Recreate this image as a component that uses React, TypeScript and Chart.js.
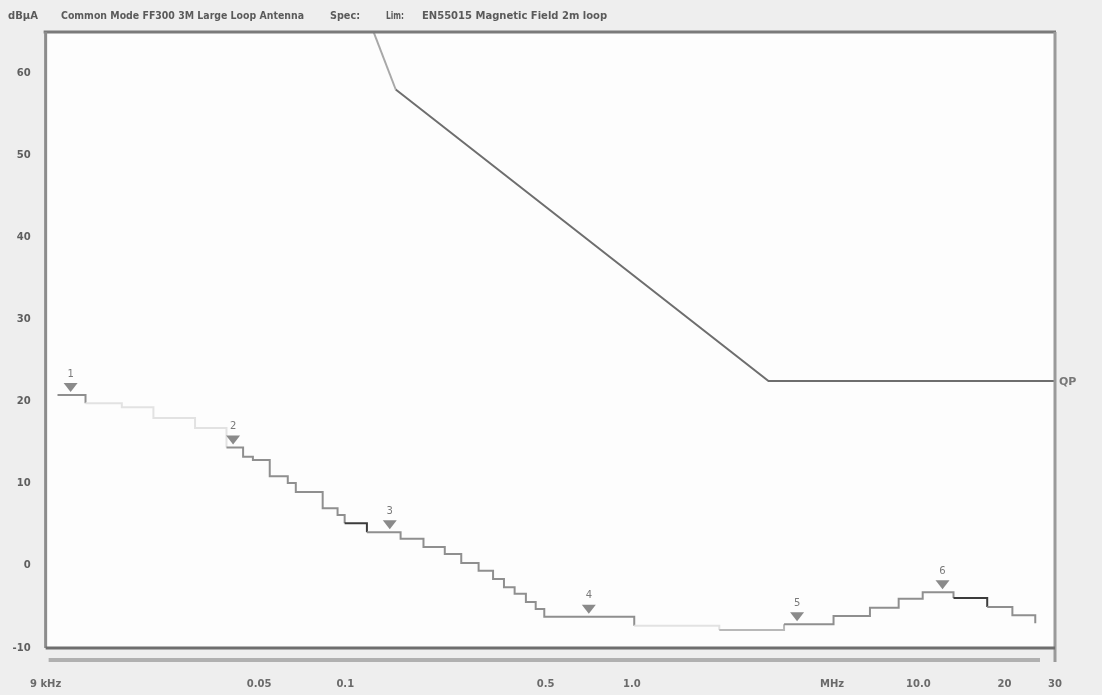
import React, { useEffect, useRef } from 'react';
import { Chart, registerables } from 'chart.js';

Chart.register(...registerables);

// ---- data ----
const traceFreqs = [0.0099, 0.0124, 0.0166, 0.0214, 0.0299, 0.0385, 0.044, 0.0476, 0.0545, 0.063, 0.0672, 0.0834, 0.094, 0.0995, 0.119, 0.156, 0.1875, 0.2225, 0.254, 0.292, 0.328, 0.358, 0.39, 0.427, 0.462, 0.495, 1.02, 2.02, 3.4, 5.06, 6.78, 8.54, 10.36, 13.27, 17.4, 21.3, 25.6];
const traceLevels = [20.8, 19.8, 19.3, 18.0, 16.8, 14.4, 13.3, 12.9, 10.9, 10.1, 9.0, 7.0, 6.2, 5.2, 4.1, 3.3, 2.3, 1.45, 0.35, -0.6, -1.6, -2.6, -3.4, -4.4, -5.25, -6.2, -7.3, -7.8, -7.1, -6.1, -5.1, -4.0, -3.2, -3.9, -5.0, -6.0, -7.0];

const limitFreqs = [0.07, 0.15, 3.0, 30];
const limitLevels = [88, 58, 22.5, 22.5];

const markerFreqs = [0.011, 0.0406, 0.143, 0.708, 3.775, 12.15];
const markerLevels = [20.8, 14.4, 4.1, -6.2, -7.1, -3.2];
const markerLabels = ['1', '2', '3', '4', '5', '6'];

const xTickValues = [0.009, 0.05, 0.1, 0.5, 1, 5, 10, 20, 30];
const xTickLabels = ['9 kHz', '0.05', '0.1', '0.5', '1.0', 'MHz', '10.0', '20', '30'];
const yTickValues = [-10, 0, 10, 20, 30, 40, 50, 60];

const headerUnit = 'dBµA';
const headerTitle = 'Common Mode FF300 3M Large Loop Antenna';
const headerSpec = 'Spec:';
const headerLim = 'Lim:';
const headerLimit = 'EN55015 Magnetic Field 2m loop';
const limitTag = 'QP';

// ---- styles ----
const fadedRanges: [number, number][] = [[0.0124, 0.0385], [1.02, 2.02]];
const lightRanges: [number, number][] = [[2.02, 3.4]];
const darkRanges: [number, number][] = [[0.0995, 0.119], [13.27, 17.4]];
const inRange = (v: number, r: [number, number][]) => r.some(([a, b]) => v >= a - 1e-9 && v < b - 1e-9);

const decoPlugin = {
  id: 'deco',
  beforeDraw(chart: any) {
    const { ctx, chartArea: a, width, height } = chart;
    ctx.save();
    ctx.fillStyle = '#eeeeee';
    ctx.fillRect(0, 0, width, height);
    ctx.fillStyle = '#fdfdfd';
    ctx.fillRect(a.left, a.top, a.right - a.left, a.bottom - a.top);
    // header
    ctx.fillStyle = '#5a5a5a';
    ctx.font = 'bold 10px "DejaVu Sans"';
    ctx.textBaseline = 'middle';
    ctx.textAlign = 'left';
    ctx.fillText(headerUnit, 8, 16, 32);
    ctx.fillText(headerTitle, 61, 16, 243);
    ctx.fillText(headerSpec, 330, 16, 30);
    ctx.fillText(headerLim, 386, 16, 18);
    ctx.fillText(headerLimit, 422, 16, 202);
    ctx.restore();
  },
  afterDraw(chart: any) {
    const { ctx, chartArea: a } = chart;
    ctx.save();
    // frame
    ctx.lineWidth = 3;
    ctx.strokeStyle = '#7a7a7a';
    ctx.beginPath();
    ctx.moveTo(a.left - 2, a.top);
    ctx.lineTo(a.right + 1, a.top);
    ctx.stroke();
    ctx.strokeStyle = '#8c8c8c';
    ctx.beginPath();
    ctx.moveTo(a.left, a.top);
    ctx.lineTo(a.left, a.bottom);
    ctx.stroke();
    ctx.strokeStyle = '#9a9a9a';
    ctx.beginPath();
    ctx.moveTo(a.right, a.top);
    ctx.lineTo(a.right, a.bottom + 14);
    ctx.stroke();
    ctx.strokeStyle = '#6e6e6e';
    ctx.beginPath();
    ctx.moveTo(a.left, a.bottom);
    ctx.lineTo(a.right, a.bottom);
    ctx.stroke();
    // lower bar
    ctx.lineWidth = 4;
    ctx.strokeStyle = '#b0b0b0';
    ctx.beginPath();
    ctx.moveTo(a.left + 3, a.bottom + 12);
    ctx.lineTo(a.right - 15, a.bottom + 12);
    ctx.stroke();
    // markers
    const xs = chart.scales.x;
    const ys = chart.scales.y;
    ctx.font = '10px "DejaVu Sans"';
    ctx.textAlign = 'center';
    ctx.textBaseline = 'middle';
    markerFreqs.forEach((f, i) => {
      const px = xs.getPixelForValue(f);
      const py = ys.getPixelForValue(markerLevels[i]);
      ctx.fillStyle = '#8a8a8a';
      ctx.beginPath();
      ctx.moveTo(px - 7, py - 12);
      ctx.lineTo(px + 7, py - 12);
      ctx.lineTo(px, py - 3);
      ctx.closePath();
      ctx.fill();
      ctx.fillStyle = '#7a7a7a';
      ctx.fillText(markerLabels[i], px, py - 21);
    });
    // QP tag
    const ly = ys.getPixelForValue(limitLevels[limitLevels.length - 1]);
    ctx.font = 'bold 11px "DejaVu Sans"';
    ctx.textAlign = 'left';
    ctx.fillStyle = '#777777';
    ctx.fillText(limitTag, a.right + 4, ly + 1);
    ctx.restore();
  },
};

export default function App() {
  const ref = useRef<HTMLCanvasElement | null>(null);
  useEffect(() => {
    if (!ref.current) return;
    const traceData = traceFreqs.map((f, i) => ({ x: f, y: traceLevels[i] }));
    const limitData = limitFreqs.map((f, i) => ({ x: f, y: limitLevels[i] }));
    const chart = new Chart(ref.current, {
      type: 'line',
      data: {
        datasets: [
          {
            label: 'Limit',
            data: limitData,
            borderColor: '#6e6e6e',
            borderWidth: 2,
            pointRadius: 0,
            fill: false,
            segment: {
              borderColor: (c: any) => (c.p0.parsed.x < 0.1 ? '#a8a8a8' : '#6e6e6e'),
            },
          },
          {
            label: 'Trace',
            data: traceData,
            stepped: 'before',
            borderColor: '#8f8f8f',
            borderWidth: 2,
            pointRadius: 0,
            fill: false,
            segment: {
              borderColor: (c: any) => {
                const v = c.p0.parsed.x;
                if (inRange(v, fadedRanges)) return '#e2e2e2';
                if (inRange(v, lightRanges)) return '#b8b8b8';
                if (inRange(v, darkRanges)) return '#3c3c3c';
                return '#8f8f8f';
              },
            },
          },
        ],
      },
      options: {
        animation: false,
        responsive: false,
        maintainAspectRatio: false,
        layout: { padding: { top: 32, right: 47, left: 0, bottom: 0 } },
        plugins: { legend: { display: false }, tooltip: { enabled: false }, title: { display: false } },
        scales: {
          x: {
            type: 'logarithmic',
            min: 0.009,
            max: 30,
            grid: { display: false, drawTicks: false },
            border: { display: false },
            afterBuildTicks: (s: any) => {
              s.ticks = xTickValues.map((v) => ({ value: v }));
            },
            afterFit: (s: any) => {
              s.height = 47;
            },
            ticks: {
              autoSkip: false,
              maxRotation: 0,
              padding: 30,
              color: '#6a6a6a',
              font: { family: 'DejaVu Sans', size: 10, weight: 'bold' },
              callback: (_v: any, i: number) => xTickLabels[i],
            },
          },
          y: {
            type: 'linear',
            min: -10,
            max: 65,
            grid: { display: false, drawTicks: false },
            border: { display: false },
            afterBuildTicks: (s: any) => {
              s.ticks = yTickValues.map((v) => ({ value: v }));
            },
            afterFit: (s: any) => {
              s.width = 42;
            },
            ticks: {
              padding: 15,
              color: '#5e5e5e',
              font: { family: 'DejaVu Sans', size: 10, weight: 'bold' },
              callback: (v: any) => String(v),
            },
          },
        },
      },
      plugins: [decoPlugin],
    } as any);
    return () => chart.destroy();
  }, []);
  return (
    <div style={{ position: 'fixed', left: 0, top: 0, width: 1102, height: 695 }}>
      <canvas ref={ref} width={1102} height={695} style={{ width: 1102, height: 695, display: 'block' }} />
    </div>
  );
}
